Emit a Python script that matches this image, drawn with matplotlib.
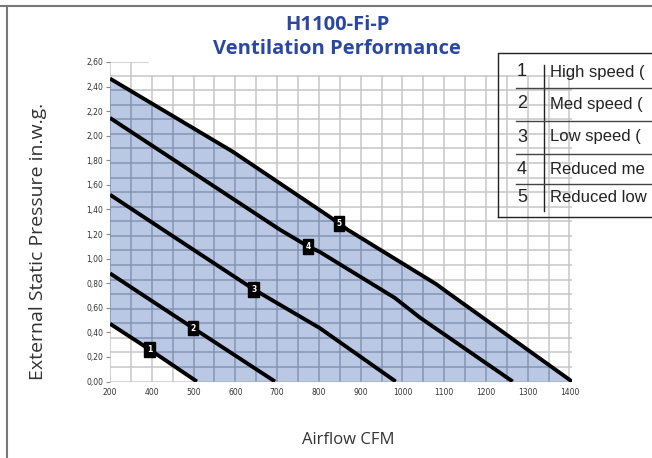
import numpy as np
import matplotlib.pyplot as plt
from matplotlib.patches import Polygon
from matplotlib.lines import Line2D

# curve data (x in the chart's own scale, left edge labelled "200")
c1_x = [300, 395, 508]
c1_y = [0.47, 0.26, 0.0]
c2_x = [300, 396, 499, 695]
c2_y = [0.88, 0.665, 0.435, 0.0]
c3_x = [300, 427, 644, 802, 984]
c3_y = [1.52, 1.235, 0.75, 0.435, 0.0]
c4_x = [300, 707, 774, 802, 982, 1042, 1264]
c4_y = [2.145, 1.235, 1.10, 1.055, 0.68, 0.52, 0.0]
c5_x = [300, 594, 826, 869, 1082, 1106, 1406]
c5_y = [2.465, 1.87, 1.34, 1.235, 0.79, 0.73, 0.0]

curves = [(c1_x, c1_y), (c2_x, c2_y), (c3_x, c3_y), (c4_x, c4_y), (c5_x, c5_y)]
marker_x = [395, 499, 644, 774, 848]

x_ticks = [300, 400, 500, 600, 700, 800, 900, 1000, 1100, 1200, 1300, 1400]
x_labels = ["200", "400", "500", "600", "700", "800", "900", "1000", "1100", "1200", "1300", "1400"]
y_ticks = [0.0, 0.2, 0.4, 0.6, 0.8, 1.0, 1.2, 1.4, 1.6, 1.8, 2.0, 2.2, 2.4, 2.6]

legend_nums = ["1", "2", "3", "4", "5"]
legend_text = ["High speed (", "Med speed (", "Low speed (", "Reduced me", "Reduced low"]

W, H = 652, 458
fig = plt.figure(figsize=(W / 100, H / 100), dpi=100)
ax = fig.add_axes([110 / W, 1 - 381.5 / H, 462 / W, 319.5 / H])
ax.set_xlim(300, 1406)
ax.set_ylim(0, 2.6)

# fill between lowest and highest curve
poly_x = list(c5_x) + [508] + list(c1_x[::-1])
poly_y = list(c5_y) + [0.0] + list(c1_y[::-1])
fill = Polygon(np.column_stack([poly_x, poly_y]), closed=True,
               facecolor="#bac8e4", edgecolor="none", zorder=1)
ax.add_patch(fill)

# grid: light grey everywhere, darker inside the filled area
grid_y = np.linspace(0, 2.49, 22)
grid_x = np.arange(300, 1401, 50)
for clip in (None, fill):
    col = "#c6c6c6" if clip is None else "#8494b4"
    z = 0.5 if clip is None else 1.5
    arts = []
    for gy in grid_y:
        arts += ax.plot([300, 1406], [gy, gy], color=col, lw=1.1, zorder=z)
    for gx in grid_x:
        top = 2.6 if gx <= 350 else 2.49
        arts += ax.plot([gx, gx], [0, top], color=col, lw=1.1, zorder=z)
    arts += ax.plot([300, 391], [2.6, 2.6], color=col, lw=1.1, zorder=z)
    if clip is not None:
        for a in arts:
            a.set_clip_path(clip)

for cx, cy in curves:
    ax.plot(cx, cy, color="black", lw=2.8, solid_capstyle="butt", zorder=3)

for i, (cx, cy) in enumerate(curves):
    mx = marker_x[i]
    my = np.interp(mx, cx, cy)
    ax.text(mx, my, legend_nums[i], ha="center", va="center", fontsize=5.5,
            color="white", fontweight="bold", zorder=5,
            bbox=dict(boxstyle="square,pad=0.35", fc="black", ec="black"))

for s in ax.spines.values():
    s.set_visible(False)
ax.set_xticks(x_ticks)
ax.set_xticklabels(x_labels)
ax.set_yticks(y_ticks)
ax.set_yticklabels([f"{v:.2f}".replace(".", ",") for v in y_ticks])
ax.tick_params(axis="both", labelsize=5.5, colors="#333333", length=3,
               width=0.8, pad=2)
ax.tick_params(axis="x", length=0, pad=5)
ax.tick_params(axis="y", color="#888888")

# titles and axis labels
fig.text(337 / W, 1 - 25 / H, "H1100-Fi-P", ha="center", va="center",
         fontsize=14.5, fontweight="bold", color="#2b47a0", family="Open Sans")
fig.text(337 / W, 1 - 49 / H, "Ventilation Performance", ha="center", va="center",
         fontsize=14.5, fontweight="bold", color="#2b47a0", family="Open Sans")
fig.text(38 / W, 1 - 241 / H, "External Static Pressure in.w.g.", rotation=90,
         ha="center", va="center", fontsize=14, color="#333333", family="Open Sans")
fig.text(348 / W, 1 - 440 / H, "Airflow CFM", ha="center", va="center",
         fontsize=12, color="#333333", family="Open Sans")

# page frame
fig.add_artist(Line2D([0, 1], [1 - 6 / H, 1 - 6 / H], color="#777777", lw=1.5))
fig.add_artist(Line2D([7 / W, 7 / W], [0, 1 - 6 / H], color="#777777", lw=1.5))

# legend table
def fx(px):
    return px / W

def fy(py):
    return 1 - py / H

fig.add_artist(Line2D([fx(498), fx(498), 1.0], [fy(217), fy(53), fy(53)], color="#222222", lw=1.0))
fig.add_artist(Line2D([fx(498), 1.0], [fy(217), fy(217)], color="#222222", lw=1.0))
fig.add_artist(Line2D([fx(544), fx(544)], [fy(65), fy(211)], color="#222222", lw=1.0))
for ry in [88, 121, 154, 184]:
    fig.add_artist(Line2D([fx(516), 1.0], [fy(ry), fy(ry)], color="#444444", lw=1.0))
row_y = [72, 104, 137, 169, 198]
for n, t, ry in zip(legend_nums, legend_text, row_y):
    fig.text(fx(522), fy(ry), n, ha="center", va="center", fontsize=13,
             color="#222222", family="Liberation Sans")
    fig.text(fx(550), fy(ry), t, ha="left", va="center", fontsize=12,
             color="#222222", family="Liberation Sans")

fig.savefig("out.png", dpi=100)
